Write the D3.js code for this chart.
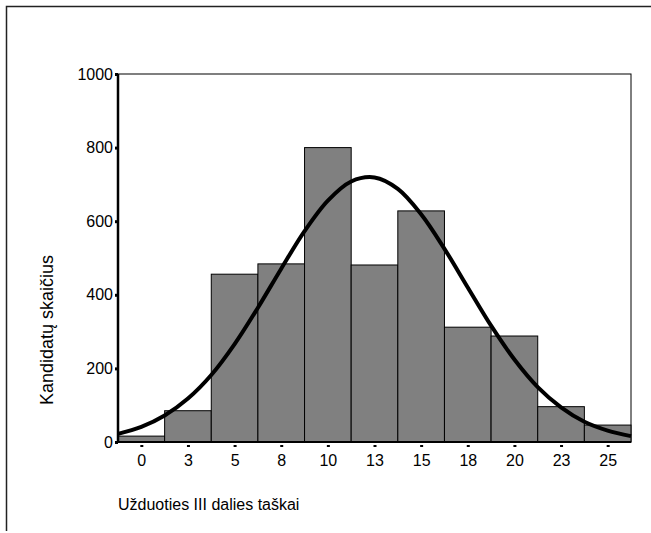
<!DOCTYPE html>
<meta charset="utf-8">
<style>
  body { margin: 0; background: #fff; }
  svg text { font-family: "Liberation Sans", Arial, sans-serif; fill: #000; }
</style>
<script src="https://d3js.org/d3.v7.min.js"></script>
<div id="chart"></div>
<script>
// Histogram bins: centres of each 2.5-point bin
var binCenters = [0, 2.5, 5, 7.5, 10, 12.5, 15, 17.5, 20, 22.5, 25];
var binCounts = [16, 85, 456, 484, 800, 481, 628, 312, 288, 96, 46];
var binWidth = 2.5;

// Normal curve
var curveX = [-1.25, 0, 1.25, 2.5, 3.75, 5, 6.25, 7.5, 8.75, 10, 11.25, 12.5,
              13.75, 15, 16.25, 17.5, 18.75, 20, 21.25, 22.5, 23.75, 25, 26.25];
var curveY = [22, 41, 72, 118, 182, 266, 365, 471, 573, 656, 708, 719,
              688, 619, 525, 420, 316, 224, 149, 94, 55, 31, 16];

var yTicks = [0, 200, 400, 600, 800, 1000];

var W = 651, H = 533;
var margin = {top: 74, right: 20, bottom: 91, left: 118};
var width = 631 - margin.left,
    height = 442 - margin.top;

var svg = d3.select("#chart").append("svg")
  .attr("width", W)
  .attr("height", H);

// outer frame (open at right and bottom, as in the picture)
svg.append("path")
  .attr("d", "M6.5,531V6.5H651")
  .attr("fill", "none")
  .attr("stroke", "#222")
  .attr("stroke-width", 1.5);

var g = svg.append("g")
  .attr("transform", "translate(" + margin.left + "," + margin.top + ")");

var x = d3.scaleLinear()
  .domain([binCenters[0] - binWidth / 2, binCenters[binCenters.length - 1] + binWidth / 2])
  .range([0, width]);
var y = d3.scaleLinear()
  .domain([0, 1000])
  .range([height, 0]);

// plot frame
g.append("rect")
  .attr("x", 0).attr("y", 0)
  .attr("width", width).attr("height", height)
  .attr("fill", "none")
  .attr("stroke", "#000")
  .attr("stroke-width", 1);

// bars
g.selectAll(".bar")
  .data(binCenters)
  .enter().append("rect")
  .attr("class", "bar")
  .attr("x", function(d) { return x(d - binWidth / 2); })
  .attr("y", function(d, i) { return y(binCounts[i]); })
  .attr("width", function(d) { return x(d + binWidth / 2) - x(d - binWidth / 2); })
  .attr("height", function(d, i) { return y(0) - y(binCounts[i]); })
  .attr("fill", "#808080")
  .attr("stroke", "#000")
  .attr("stroke-width", 1);

// normal curve
var line = d3.line()
  .x(function(d) { return x(d); })
  .y(function(d, i) { return y(curveY[i]); })
  .curve(d3.curveCatmullRom);
g.append("path")
  .attr("d", line(curveX))
  .attr("fill", "none")
  .attr("stroke", "#000")
  .attr("stroke-width", 4);

// axes
var xAxis = g.append("g")
  .attr("transform", "translate(0," + height + ")")
  .call(d3.axisBottom(x)
    .tickValues(binCenters)
    .tickSize(4)
    .tickPadding(9)
    .tickFormat(function(d) { return Math.round(d + 0.001); }));
xAxis.select(".domain").attr("stroke-width", 2).attr("d", "M0,0H" + width);
xAxis.selectAll(".tick line").attr("stroke-width", 3).attr("y1", 3).attr("y2", 5);
xAxis.selectAll(".tick text").style("font-size", "16px");

var yAxis = g.append("g")
  .call(d3.axisLeft(y)
    .tickValues(yTicks)
    .tickSize(3)
    .tickPadding(2)
    .tickFormat(d3.format("d")));
yAxis.select(".domain").attr("stroke-width", 2.5).attr("d", "M0,0V" + height);
yAxis.selectAll(".tick line").attr("stroke-width", 3);
yAxis.selectAll(".tick text").style("font-size", "16px");

// axis titles
svg.append("text")
  .attr("transform", "translate(53,330) rotate(-90)")
  .attr("text-anchor", "middle")
  .style("font-size", "18px")
  .text("Kandidatų skaičius");

svg.append("text")
  .attr("x", 118)
  .attr("y", 510)
  .style("font-size", "16px")
  .text("Užduoties III dalies taškai");
</script>
